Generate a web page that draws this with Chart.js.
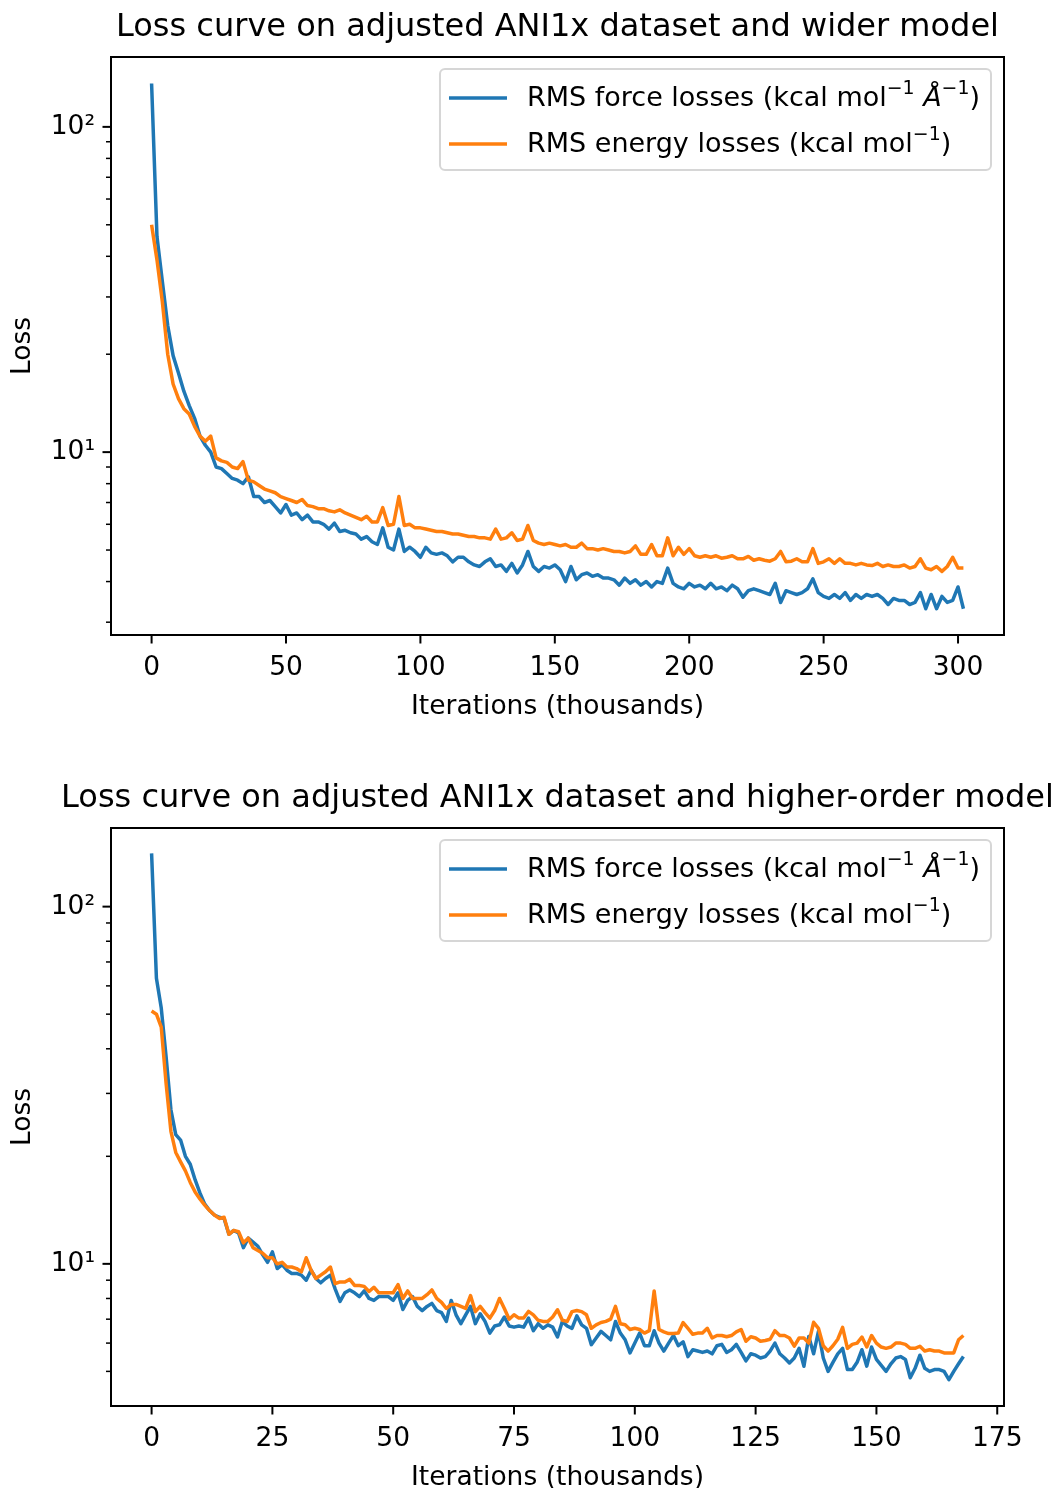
<!DOCTYPE html>
<html>
<head>
<meta charset="utf-8">
<script src="https://cdn.jsdelivr.net/npm/chart.js@4"></script>
<style>
html, body { margin: 0; padding: 0; background: #fff; width: 1055px; height: 1488px; overflow: hidden; }
canvas { position: absolute; left: 0; }
#top-chart { top: 0; }
#bottom-chart { top: 771px; }
</style>
</head>
<body>
<canvas id="top-chart" width="1055" height="744"></canvas>
<canvas id="bottom-chart" width="1055" height="744"></canvas>
<script>
// sampled every 2k iterations (top) and every 1k iterations (bottom)
const topIters = Array.from({length: 152}, (_, i) => i * 2);
const bottomIters = Array.from({length: 169}, (_, i) => i);

const topForce = [
    136, 46, 33.5, 24.5, 19.8, 17.5, 15.4, 13.9, 12.7, 11.2,
    10.5, 10.0, 9.0, 8.9, 8.6, 8.3, 8.2, 8.0, 8.4, 7.3,
    7.3, 7.0, 7.1, 6.8, 6.5, 6.9, 6.4, 6.5, 6.2, 6.4,
    6.1, 6.1, 6.0, 5.8, 6.05, 5.7, 5.75, 5.65, 5.6, 5.4,
    5.5, 5.3, 5.2, 5.85, 5.1, 5.0, 5.8, 4.95, 5.1, 4.95,
    4.75, 5.1, 4.9, 4.85, 4.9, 4.8, 4.6, 4.75, 4.75, 4.6,
    4.5, 4.45, 4.6, 4.7, 4.45, 4.5, 4.3, 4.55, 4.25, 4.5,
    4.95, 4.45, 4.3, 4.45, 4.4, 4.5, 4.35, 4.0, 4.45, 4.05,
    4.2, 4.25, 4.15, 4.2, 4.1, 4.1, 4.05, 3.9, 4.1, 3.95,
    4.05, 3.9, 4.0, 3.85, 4.0, 3.95, 4.4, 3.95, 3.85, 3.8,
    3.95, 3.85, 3.9, 3.8, 3.95, 3.8, 3.85, 3.75, 3.9, 3.8,
    3.58, 3.75, 3.8, 3.75, 3.7, 3.65, 3.95, 3.45, 3.75, 3.7,
    3.65, 3.7, 3.8, 4.08, 3.7, 3.6, 3.55, 3.65, 3.55, 3.7,
    3.5, 3.65, 3.55, 3.65, 3.6, 3.65, 3.55, 3.4, 3.55, 3.5,
    3.5, 3.4, 3.45, 3.7, 3.3, 3.65, 3.3, 3.6, 3.45, 3.5,
    3.85, 3.3
];
const topEnergy = [
    50, 39, 29, 20, 16.2, 14.6, 13.6, 13.1, 12.0, 11.2,
    10.8, 11.2, 9.6, 9.4, 9.3, 9.0, 8.9, 9.35, 8.2, 8.1,
    7.9, 7.7, 7.6, 7.5, 7.3, 7.2, 7.1, 7.0, 7.15, 6.85,
    6.8, 6.7, 6.7, 6.6, 6.55, 6.65, 6.5, 6.4, 6.3, 6.2,
    6.35, 6.1, 6.1, 6.75, 5.95, 6.0, 7.3, 5.95, 6.0, 5.85,
    5.85, 5.8, 5.75, 5.7, 5.7, 5.65, 5.6, 5.6, 5.55, 5.5,
    5.5, 5.45, 5.45, 5.4, 5.8, 5.4, 5.45, 5.65, 5.35, 5.4,
    5.95, 5.35, 5.25, 5.2, 5.25, 5.2, 5.15, 5.2, 5.1, 5.1,
    5.25, 5.05, 5.05, 5.0, 5.05, 5.0, 4.95, 4.95, 4.9, 4.95,
    5.15, 4.85, 4.85, 5.2, 4.8, 4.8, 5.45, 4.8, 5.1, 4.85,
    5.05, 4.8, 4.75, 4.8, 4.75, 4.8, 4.72, 4.75, 4.8, 4.7,
    4.7, 4.78, 4.65, 4.7, 4.65, 4.62, 4.7, 4.95, 4.6, 4.62,
    4.7, 4.6, 4.6, 5.05, 4.55, 4.6, 4.7, 4.55, 4.7, 4.55,
    4.55, 4.5, 4.55, 4.5, 4.48, 4.55, 4.45, 4.5, 4.45, 4.45,
    4.5, 4.4, 4.45, 4.7, 4.4, 4.35, 4.45, 4.3, 4.45, 4.75,
    4.4, 4.4
];

const bottomForce = [
    141, 63, 52, 38, 27, 23, 22.2, 20, 19, 17.2,
    15.8, 14.7, 14.1, 13.7, 13.5, 13.4, 12.1, 12.4, 12.2, 11.1,
    11.8, 11.5, 11.2, 10.6, 10.1, 10.8, 9.7, 9.95, 9.6, 9.4,
    9.4, 9.3, 9.0, 9.6, 9.1, 8.85, 9.1, 9.3, 8.5, 7.85,
    8.3, 8.45, 8.3, 8.1, 8.4, 8.0, 7.9, 8.1, 8.1, 8.1,
    7.9, 8.3, 7.45, 7.9, 8.1, 7.6, 7.4, 7.6, 7.75, 7.4,
    7.3, 6.9, 7.9, 7.2, 6.8, 7.2, 7.6, 6.8, 7.25, 6.9,
    6.4, 6.7, 6.75, 7.1, 6.7, 6.65, 6.7, 6.65, 7.05, 6.5,
    6.8, 6.6, 6.75, 6.65, 6.24, 6.9, 6.7, 6.6, 7.15, 6.75,
    6.6, 5.94, 6.2, 6.47, 6.3, 6.13, 6.9, 6.4, 6.13, 5.63,
    6.0, 6.4, 5.9, 5.9, 6.5, 6.0, 5.7, 6.0, 6.3, 5.9,
    6.05, 5.5, 5.75, 5.7, 5.65, 5.7, 5.6, 5.9, 5.95, 5.65,
    5.75, 5.95, 5.65, 5.35, 5.6, 5.55, 5.45, 5.5, 5.7, 6.0,
    5.6, 5.45, 5.28, 5.45, 5.8, 5.17, 6.26, 5.6, 6.47, 5.45,
    5.0, 5.3, 5.6, 5.8, 5.06, 5.06, 5.3, 5.75, 5.17, 5.85,
    5.4, 5.2, 5.0, 5.25, 5.45, 5.5, 5.4, 4.8, 5.1, 5.55,
    5.1, 5.0, 5.06, 5.06, 5.0, 4.74, 5.0, 5.25, 5.5
];
const bottomEnergy = [
    51, 50, 46, 32, 23.5, 20.5, 19.3, 18.2, 16.9, 15.9,
    15.2, 14.6, 14.1, 13.7, 13.4, 13.5, 12.1, 12.4, 12.3, 11.45,
    11.8, 11.1, 10.9, 10.7, 10.4, 10.4, 10.0, 10.1, 9.8, 9.8,
    9.7, 9.5, 10.4, 9.6, 9.1, 9.3, 9.5, 9.8, 8.8, 8.9,
    8.9, 9.05, 8.7, 8.7, 8.65, 8.37, 8.6, 8.3, 8.3, 8.3,
    8.3, 8.75, 8.0, 8.4, 8.0, 8.0, 8.0, 8.2, 8.45, 8.0,
    7.8, 7.5, 7.7, 7.7, 7.6, 7.5, 8.15, 7.35, 7.6, 7.3,
    7.05, 7.4, 8.0, 7.5, 7.0, 7.2, 7.05, 7.05, 7.36, 7.2,
    6.95, 6.9, 6.9, 7.1, 7.44, 6.95, 6.9, 7.35, 7.4, 7.35,
    7.2, 6.6, 6.75, 6.85, 6.9, 7.0, 7.6, 6.8, 6.75, 6.55,
    6.6, 6.55, 6.4, 6.5, 8.4, 6.55, 6.45, 6.38, 6.38, 6.4,
    6.85, 6.6, 6.35, 6.4, 6.4, 6.6, 6.2, 6.3, 6.3, 6.25,
    6.3, 6.45, 6.55, 6.07, 6.25, 6.2, 6.07, 6.1, 6.15, 6.5,
    6.3, 6.3, 6.2, 5.88, 6.2, 6.2, 6.0, 6.86, 6.6, 5.9,
    5.7, 5.9, 6.15, 6.64, 5.8, 5.95, 6.0, 6.24, 5.85, 6.3,
    6.0, 5.85, 5.8, 5.85, 6.0, 6.0, 5.95, 5.8, 5.8, 5.88,
    5.7, 5.75, 5.7, 5.7, 5.63, 5.63, 5.63, 6.13, 6.3
];

const topXTicks = [0, 50, 100, 150, 200, 250, 300];
const bottomXTicks = [0, 25, 50, 75, 100, 125, 150, 175];
const logTicks = [2, 3, 4, 5, 6, 7, 8, 9, 10, 20, 30, 40, 50, 60, 70, 80, 90, 100, 200];
const logTickLabels = {10: '10¹', 100: '10²'};

const forceLabel = 'RMS force losses (kcal mol⁻¹ Å⁻¹)';
const energyLabel = 'RMS energy losses (kcal mol⁻¹)';
const blue = '#1f77b4';
const orange = '#ff7f0e';
const FONT = '"DejaVu Sans"';

Chart.defaults.font.family = FONT;
Chart.defaults.color = '#000';

// splits "mol⁻¹" style text into normal / superscript runs, Å in italic
function richRuns(text) {
    const runs = [];
    for (const ch of text) {
        const sup = ch === '⁻' || ch === '¹';
        const italic = ch === 'Å';
        const c = ch === '⁻' ? '−' : ch === '¹' ? '1' : ch;
        const last = runs[runs.length - 1];
        if (last && last.sup === sup && last.italic === italic) {
            last.text += c;
        } else {
            runs.push({text: c, sup: sup, italic: italic});
        }
    }
    return runs;
}

function drawRich(ctx, text, x, y, size, measureOnly) {
    let cx = x;
    richRuns(text).forEach(r => {
        const fs = r.sup ? size * 0.7 : size;
        ctx.font = (r.italic ? 'italic ' : '') + fs + 'px ' + FONT;
        if (!measureOnly) {
            ctx.fillText(r.text, cx, r.sup ? y - size * 0.36 : y);
        }
        cx += ctx.measureText(r.text).width;
    });
    return cx - x;
}

const figureDecor = {
    id: 'figureDecor',
    afterDraw(chart, args, opts) {
        const {ctx, chartArea: a, scales} = chart;
        ctx.save();

        // legend box, upper right
        const size = 27;
        ctx.textBaseline = 'middle';
        ctx.textAlign = 'left';
        const items = chart.data.datasets.map(ds => ({label: ds.label, color: ds.borderColor}));
        const textW = Math.max(...items.map(it => drawRich(ctx, it.label, 0, 0, size, true)));
        const boxW = 87 + textW + 11;
        const boxH = 101;
        const bx = a.right - 13 - boxW;
        const by = a.top + 12;
        const r = 5;
        ctx.beginPath();
        ctx.moveTo(bx + r, by);
        ctx.lineTo(bx + boxW - r, by);
        ctx.arcTo(bx + boxW, by, bx + boxW, by + r, r);
        ctx.lineTo(bx + boxW, by + boxH - r);
        ctx.arcTo(bx + boxW, by + boxH, bx + boxW - r, by + boxH, r);
        ctx.lineTo(bx + r, by + boxH);
        ctx.arcTo(bx, by + boxH, bx, by + boxH - r, r);
        ctx.lineTo(bx, by + r);
        ctx.arcTo(bx, by, bx + r, by, r);
        ctx.closePath();
        ctx.fillStyle = 'rgba(255,255,255,0.8)';
        ctx.fill();
        ctx.strokeStyle = 'rgba(204,204,204,0.8)';
        ctx.lineWidth = 2;
        ctx.stroke();
        items.forEach((it, i) => {
            const ry = by + 29 + i * 46;
            ctx.strokeStyle = it.color;
            ctx.lineWidth = 3.5;
            ctx.beginPath();
            ctx.moveTo(bx + 9, ry);
            ctx.lineTo(bx + 67, ry);
            ctx.stroke();
            ctx.fillStyle = '#000';
            drawRich(ctx, it.label, bx + 87, ry + 1, size, false);
        });

        // axes frame
        ctx.strokeStyle = '#000';
        ctx.lineWidth = 2;
        ctx.strokeRect(a.left, a.top, a.right - a.left, a.bottom - a.top);

        // tick marks, major and minor
        scales.x.ticks.forEach(t => {
            const px = scales.x.getPixelForValue(t.value);
            ctx.lineWidth = 2;
            ctx.beginPath();
            ctx.moveTo(px, a.bottom);
            ctx.lineTo(px, a.bottom + 8.5);
            ctx.stroke();
        });
        scales.y.ticks.forEach(t => {
            const py = scales.y.getPixelForValue(t.value);
            const major = logTickLabels[t.value] !== undefined;
            ctx.lineWidth = major ? 2 : 1.5;
            ctx.beginPath();
            ctx.moveTo(a.left, py);
            ctx.lineTo(a.left - (major ? 8.5 : 5), py);
            ctx.stroke();
        });

        // figure title centred over the axes
        ctx.fillStyle = '#000';
        ctx.textAlign = 'center';
        ctx.font = '32px ' + FONT;
        ctx.fillText(opts.text, (a.left + a.right) / 2, 28);
        ctx.restore();
    }
};

const buildLossChart = function (id, iters, force, energy, options) {
    const config = {
        type: 'line',
        data: {
            labels: iters,
            datasets: [
                {
                    label: forceLabel,
                    data: force,
                    borderColor: blue,
                    order: 1,
                },
                {
                    label: energyLabel,
                    data: energy,
                    borderColor: orange,
                    order: 0,
                },
            ],
        },
        options: {
            responsive: false,
            animation: false,
            devicePixelRatio: 1,
            layout: {padding: {top: 57, right: 51, bottom: 9, left: 0}},
            elements: {
                point: {radius: 0},
                line: {borderWidth: 3.5, tension: 0, borderJoinStyle: 'round', fill: false},
            },
            scales: {
                x: {
                    type: 'linear',
                    min: options.xMin,
                    max: options.xMax,
                    afterBuildTicks: s => { s.ticks = options.xTicks.map(v => ({value: v})); },
                    afterFit: s => { s.height = 100; },
                    grid: {display: true, drawOnChartArea: false, tickLength: 8, color: 'rgba(0,0,0,0)'},
                    border: {display: false},
                    ticks: {
                        autoSkip: false,
                        maxRotation: 0,
                        padding: 9,
                        font: {size: 26.5},
                        callback: v => String(v),
                    },
                    title: {
                        display: true,
                        text: 'Iterations (thousands)',
                        font: {size: 26.5},
                        padding: {top: 0, bottom: 12},
                    },
                },
                y: {
                    type: 'logarithmic',
                    min: options.yMin,
                    max: options.yMax,
                    afterBuildTicks: s => {
                        s.ticks = logTicks.filter(v => v > s.min * 1.004 && v < s.max).map(v => ({value: v}));
                    },
                    afterFit: s => { s.width = 111; },
                    grid: {display: true, drawOnChartArea: false, tickLength: 8, color: 'rgba(0,0,0,0)'},
                    border: {display: false},
                    ticks: {
                        autoSkip: false,
                        padding: 8,
                        font: {size: 26.5},
                        callback: v => logTickLabels[v] || '',
                    },
                    title: {
                        display: true,
                        text: 'Loss',
                        font: {size: 26.5},
                        padding: {top: 7, bottom: 0},
                    },
                },
            },
            plugins: {
                legend: {display: false},
                title: {display: false},
                tooltip: {enabled: false},
                figureDecor: {text: options.title},
            },
        },
        plugins: [figureDecor],
    };

    new Chart(document.getElementById(id), config);
};

(function () {
    buildLossChart('top-chart', topIters, topForce, topEnergy, {
        title: 'Loss curve on adjusted ANI1x dataset and wider model',
        xMin: -15.1,
        xMax: 317.1,
        xTicks: topXTicks,
        yMin: 2.74,
        yMax: 164,
    });

    buildLossChart('bottom-chart', bottomIters, bottomForce, bottomEnergy, {
        title: 'Loss curve on adjusted ANI1x dataset and higher-order model',
        xMin: -8.4,
        xMax: 176.4,
        xTicks: bottomXTicks,
        yMin: 4.0,
        yMax: 166,
    });
})();
</script>
</body>
</html>
